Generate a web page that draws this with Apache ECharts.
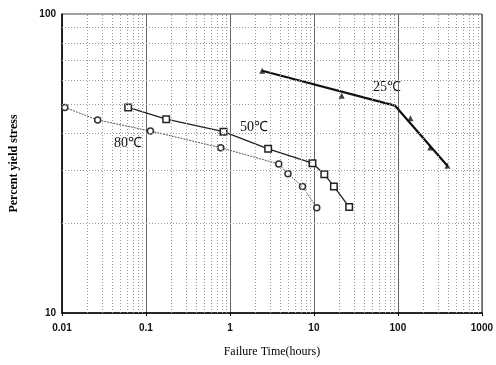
<!DOCTYPE html>
<html><head><meta charset="utf-8">
<script src="https://cdn.jsdelivr.net/npm/echarts@6/dist/echarts.min.js"></script>
<style>html,body{margin:0;padding:0;background:#fff}#c{width:496px;height:365px}</style>
</head><body><div id="c"></div>
<script>
// Data (Failure time in hours, percent yield stress)
const t25Points = [[2.42, 64.6], [21.4, 53.3], [141, 44.8], [243, 35.8], [389, 31.1]];
const t25Fit = [[2.42, 64.6], [92, 49.4], [395, 30.9]];
const t50Points = [[0.0614, 48.7], [0.174, 44.5], [0.838, 40.4], [2.85, 35.4], [9.6, 31.7], [13.3, 29.1], [17.3, 26.5], [26.3, 22.6]];
const t80Points = [[0.0108, 48.7], [0.0266, 44.2], [0.113, 40.6], [0.778, 35.7], [3.81, 31.5], [4.91, 29.2], [7.31, 26.5], [10.8, 22.5]];
const xTickLabels = ['0.01', '0.1', '1', '10', '100', '1000'];
const yTickLabels = ['10', '100'];
const seriesLabels = ['25\u2103', '50\u2103', '80\u2103'];

const xMinor = [];
[0.01, 0.1, 1, 10, 100].forEach(d => { for (let k = 2; k <= 9; k++) xMinor.push(+(d * k).toPrecision(3)); });
const yMinor = [20, 30, 40, 50, 60, 70, 80, 90];

const chart = echarts.init(document.getElementById('c'));
const dotted = { color: '#999', type: [1, 2], width: 1 };
chart.setOption({
  animation: false,
  grid: { left: 60, right: 13, top: 14, bottom: 52, show: true, borderColor: '#444', borderWidth: 1 },
  xAxis: {
    type: 'log', logBase: 10, min: 0.01, max: 1000,
    name: 'Failure Time(hours)', nameLocation: 'middle', nameGap: 33,
    nameTextStyle: { fontFamily: 'Liberation Serif', fontSize: 12, color: '#000' },
    axisLine: { lineStyle: { color: '#000', width: 1.5 } },
    axisTick: { show: true, inside: false, length: 3, lineStyle: { color: '#000' } },
    axisLabel: { fontFamily: 'Liberation Sans', fontSize: 10, fontWeight: 'bold', color: '#111', margin: 10,
      formatter: v => { const i = Math.round(Math.log10(v)) + 2; return xTickLabels[i] ?? ''; } },
    splitLine: { show: true, lineStyle: { color: '#666', width: 1 } }
  },
  yAxis: {
    type: 'log', logBase: 10, min: 10, max: 100,
    name: 'Percent yield stress', nameLocation: 'middle', nameGap: 42,
    nameTextStyle: { fontFamily: 'Liberation Serif', fontSize: 12, fontWeight: 'bold', color: '#000' },
    axisLine: { lineStyle: { color: '#000', width: 1.5 } },
    axisTick: { show: false },
    axisLabel: { fontFamily: 'Liberation Sans', fontSize: 10, fontWeight: 'bold', color: '#111', margin: 6,
      formatter: v => { const i = Math.round(Math.log10(v)) - 1; return yTickLabels[i] ?? ''; } },
    splitLine: { show: false }
  },
  series: [
    { type: 'line', data: [], silent: true,
      markLine: { silent: true, symbol: 'none', label: { show: false }, lineStyle: dotted,
        data: xMinor.map(v => ({ xAxis: v })).concat(yMinor.map(v => ({ yAxis: v }))) } },
    { name: '25 fit', type: 'line', data: t25Fit, showSymbol: false, symbol: 'none',
      lineStyle: { color: '#111', width: 2.2 } },
    { name: '25', type: 'scatter', data: t25Points, symbol: 'triangle', symbolSize: 6,
      itemStyle: { color: '#111' } },
    { name: '50', type: 'line', data: t50Points, symbol: 'rect', symbolSize: 6.5, showAllSymbol: true,
      lineStyle: { color: '#222', width: 1.3 },
      itemStyle: { color: '#fff', borderColor: '#222', borderWidth: 1.5 } },
    { name: '80', type: 'line', data: t80Points, symbol: 'circle', symbolSize: 6, showAllSymbol: true,
      lineStyle: { color: '#555', width: 1, type: [2, 1] },
      itemStyle: { color: '#fff', borderColor: '#333', borderWidth: 1.5 } }
  ],
  graphic: [
    { type: 'text', left: 373, top: 80, style: { text: seriesLabels[0], font: '14px "Liberation Serif"', fill: '#111' } },
    { type: 'text', left: 240, top: 120, style: { text: seriesLabels[1], font: '14px "Liberation Serif"', fill: '#111' } },
    { type: 'text', left: 114, top: 136, style: { text: seriesLabels[2], font: '14px "Liberation Serif"', fill: '#111' } }
  ]
});
</script></body></html>
